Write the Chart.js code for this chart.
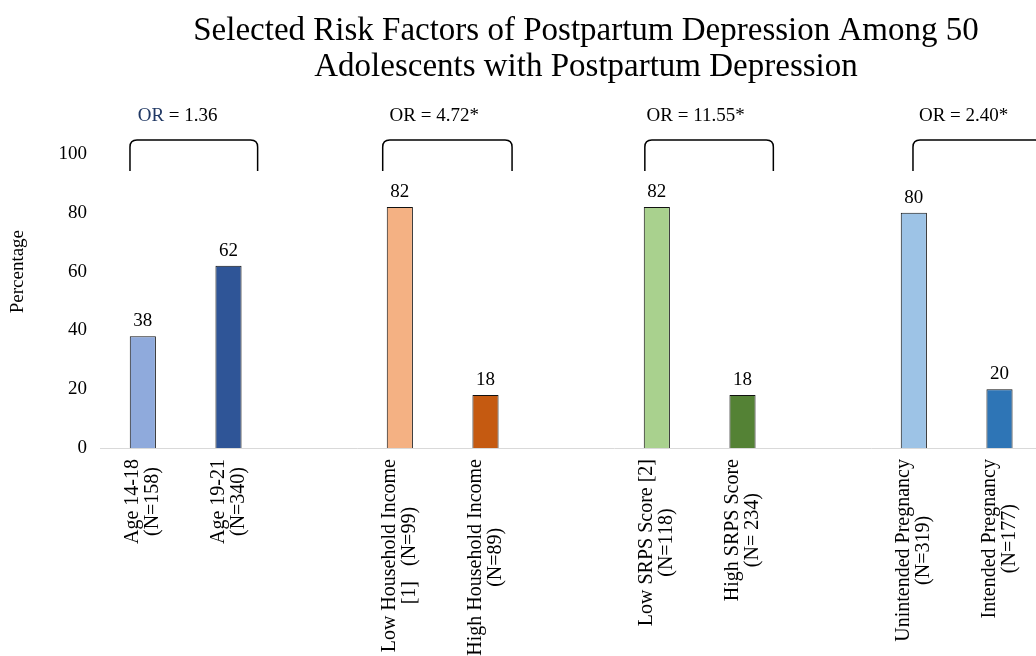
<!DOCTYPE html>
<html><head><meta charset="utf-8">
<script src="https://cdn.jsdelivr.net/npm/chart.js@4/dist/chart.umd.min.js"></script>
<style>
html,body{margin:0;padding:0;overflow:hidden;background:#fff;width:1036px;height:656px}
#wrap{position:absolute;left:0;top:0;width:1172px;height:656px}
</style>
</head><body><div id="wrap"><canvas id="c" width="1172" height="656"></canvas></div>
<script>
const titleLines = ["Selected Risk Factors of Postpartum Depression Among 50", "Adolescents with Postpartum Depression"];
const categories = [["Age 14-18","(N=158)"],["Age 19-21","(N=340)"],[""],["Low Household Income","[1]   (N=99)"],["High Household Income","(N=89)"],[""],["Low SRPS Score [2]","(N=118)"],["High SRPS Score","(N= 234)"],[""],["Unintended Pregnancy","(N=319)"],["Intended Pregnancy","(N=177)"],[""]];
const percentages = [38, 62, null, 82, 18, null, 82, 18, null, 80, 20, null];
const yTickValues = [0, 20, 40, 60, 80, 100];
const groupStarts = [0, 3, 6, 9];
const oddsRatios = ["1.36", "4.72*", "11.55*", "2.40*"];
const yAxisTitle = "Percentage";

const barColors = ["#8faadc","#2f5597","#fff","#f4b183","#c55a11","#fff","#a9d18e","#548235","#fff","#9dc3e6","#2e75b6","#fff"];
const FONT = "'Liberation Serif','Times New Roman',serif";
Chart.defaults.font.family = FONT;
Chart.defaults.color = "#000";

const annot = {
  id: 'annot',
  afterDatasetsDraw(chart) {
    const ctx = chart.ctx, xs = chart.scales.x, ys = chart.scales.y;
    ctx.save();
    // value labels
    ctx.font = "19px " + FONT;
    ctx.fillStyle = "#000";
    ctx.textAlign = "center";
    ctx.textBaseline = "alphabetic";
    chart.getDatasetMeta(0).data.forEach((bar, i) => {
      const v = percentages[i];
      if (v == null) return;
      ctx.fillText(String(v), bar.x, bar.y - 10);
    });
    // brackets + OR labels
    const lOff = [-0.15, -0.2, -0.14, -0.01];
    const rOff = [1.34, 1.31, 1.36, 1.5];
    const tOff = [-0.06, -0.12, -0.12, 0.06];
    const yt = ys.getPixelForValue(104.8), yb = ys.getPixelForValue(94.2), yl = ys.getPixelForValue(113);
    ctx.strokeStyle = "#000";
    ctx.lineWidth = 1.5;
    groupStarts.forEach((g, k) => {
      const xl = xs.getPixelForValue(g + lOff[k]);
      const xr = xs.getPixelForValue(g + rOff[k]);
      const r = 7;
      ctx.beginPath();
      ctx.moveTo(xl, yb);
      ctx.lineTo(xl, yt + r);
      ctx.quadraticCurveTo(xl, yt, xl + r, yt);
      ctx.lineTo(xr - r, yt);
      ctx.quadraticCurveTo(xr, yt, xr, yt + r);
      ctx.lineTo(xr, yb);
      ctx.stroke();
      const tx = xs.getPixelForValue(g + tOff[k]);
      ctx.textAlign = "left";
      ctx.textBaseline = "middle";
      ctx.fillStyle = k === 0 ? "#203864" : "#000";
      ctx.fillText("OR", tx, yl);
      const w = ctx.measureText("OR").width;
      ctx.fillStyle = "#000";
      ctx.fillText(" = " + oddsRatios[k], tx + w, yl);
    });
    // x labels (rotated, centred lines)
    ctx.font = "20px " + FONT;
    ctx.fillStyle = "#000";
    const top = chart.chartArea.bottom + 11, lh = 20;
    categories.forEach((lines, i) => {
      if (!lines.join("")) return;
      const x = xs.getPixelForValue(i);
      const maxW = Math.max(...lines.map(s => ctx.measureText(s).width));
      ctx.save();
      ctx.translate(x, top);
      ctx.rotate(-Math.PI / 2);
      ctx.textAlign = "center";
      ctx.textBaseline = "middle";
      lines.forEach((s, j) => {
        ctx.fillText(s, -maxW / 2, (j - (lines.length - 1) / 2) * lh);
      });
      ctx.restore();
    });
    ctx.restore();
  }
};

new Chart(document.getElementById('c'), {
  type: 'bar',
  data: {
    labels: categories,
    datasets: [{
      data: percentages,
      backgroundColor: barColors,
      borderColor: "#111",
      borderWidth: 1,
      barPercentage: 0.305,
      categoryPercentage: 1.0
    }]
  },
  options: {
    responsive: false,
    animation: false,
    layout: { padding: { top: 0, left: 0, right: 0, bottom: 200 } },
    plugins: {
      legend: { display: false },
      tooltip: { enabled: false },
      title: {
        display: true,
        text: titleLines,
        color: "#000",
        font: { size: 33, weight: 'normal', lineHeight: 1.08 },
        padding: { top: 14, bottom: 10 }
      }
    },
    scales: {
      x: {
        type: 'category',
        grid: { display: false },
        ticks: { display: false },
        border: { display: true, color: "#d9d9d9", width: 1 }
      },
      y: {
        min: 0, max: 120,
        afterBuildTicks(s) { s.ticks = yTickValues.map(v => ({ value: v })); },
        afterFit(s) { s.width = 100; },
        grid: { display: false, drawTicks: false },
        border: { display: false },
        ticks: { font: { size: 19 }, color: "#000", padding: 13 },
        title: { display: true, text: yAxisTitle, color: "#000", font: { size: 19 }, padding: { top: 7, bottom: 0 } }
      },
      yR: {
        position: 'right',
        display: true,
        grid: { display: false, drawTicks: false },
        border: { display: false },
        ticks: { display: false },
        afterFit(s) { s.width = 44; }
      }
    }
  },
  plugins: [annot]
});
</script>
</body></html>
